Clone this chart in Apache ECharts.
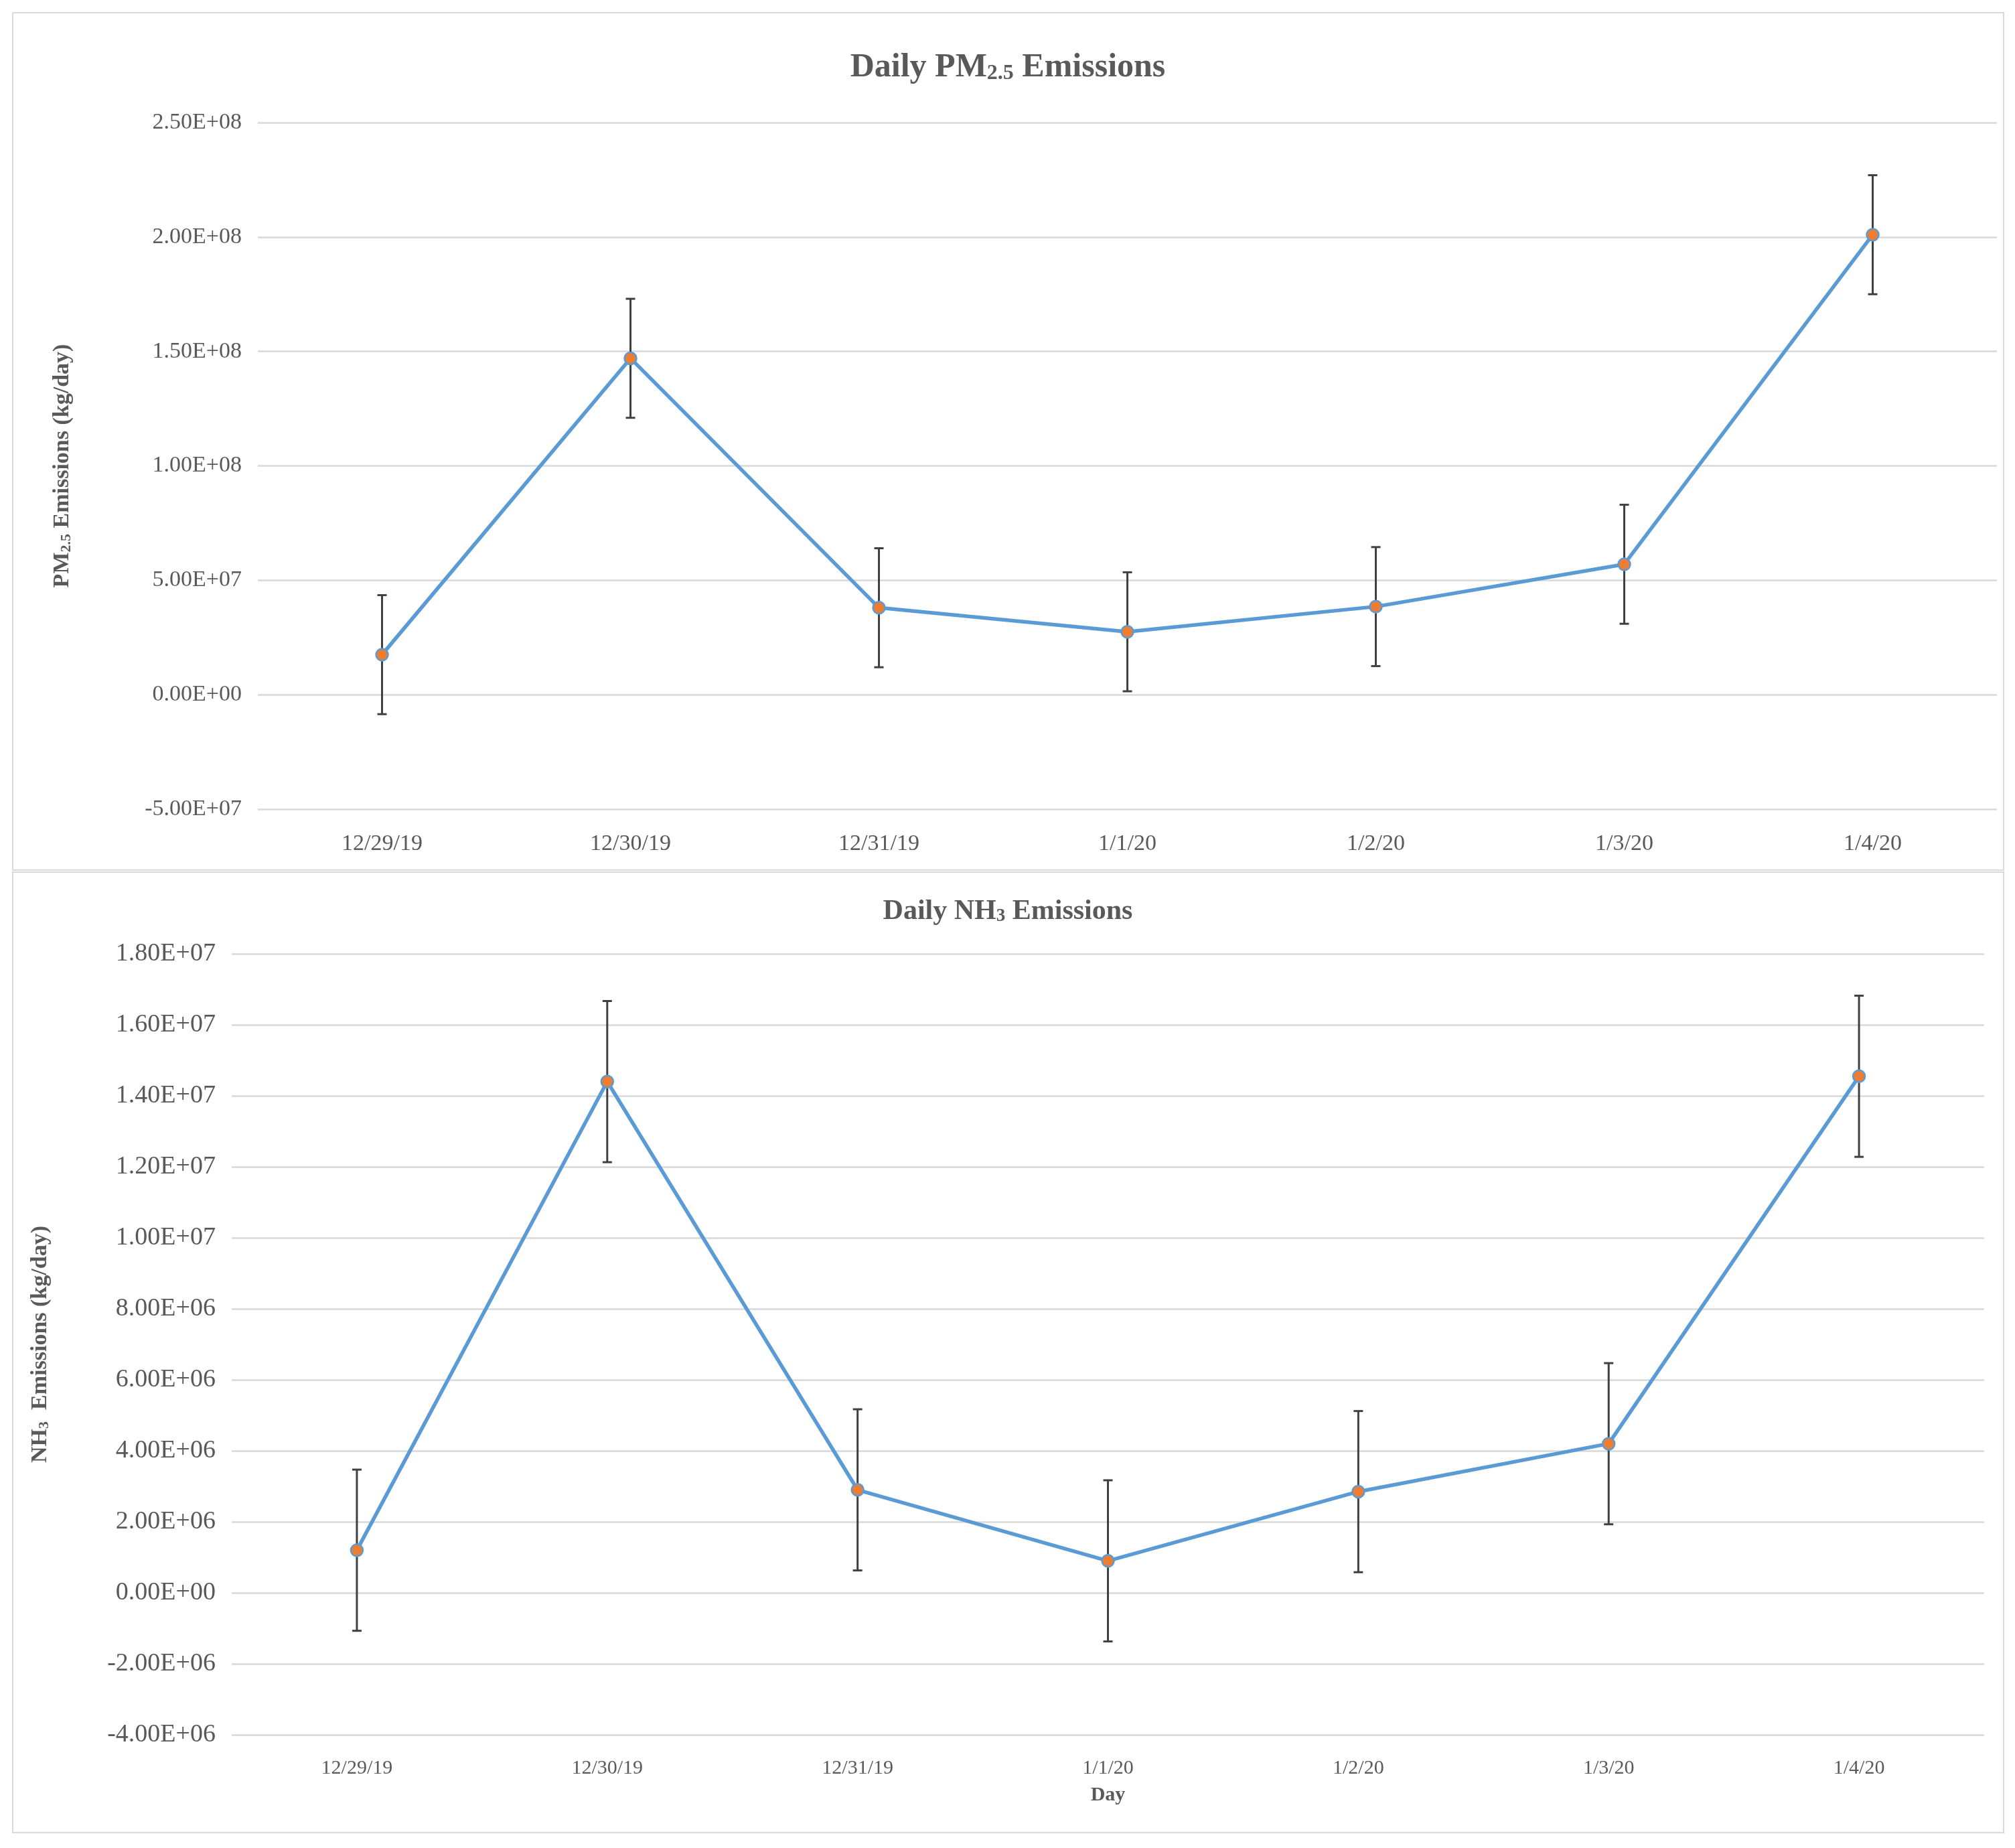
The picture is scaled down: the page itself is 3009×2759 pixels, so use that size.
<!DOCTYPE html>
<html lang="en">
<head>
    <meta charset="UTF-8">
    <title>Daily Emissions</title>
    <style>
        html, body { margin: 0; background: #fff; }
        #main { width: 3009px; height: 2759px; }
    </style>
</head>
<body>
    <div id="main"></div>
    <script src="https://cdn.jsdelivr.net/npm/echarts@6/dist/echarts.min.js"></script>
    <script>
        // data
        var days = ['12/29/19', '12/30/19', '12/31/19', '1/1/20', '1/2/20', '1/3/20', '1/4/20'];
        var pm25 = [1.75e7, 1.47e8, 3.8e7, 2.75e7, 3.85e7, 5.7e7, 2.01e8];
        var pm25Err = [2.6e7, 2.6e7, 2.6e7, 2.6e7, 2.6e7, 2.6e7, 2.6e7];
        var nh3 = [1.2e6, 1.44e7, 2.9e6, 0.9e6, 2.85e6, 4.2e6, 1.455e7];
        var nh3Err = [2.27e6, 2.27e6, 2.27e6, 2.27e6, 2.27e6, 2.27e6, 2.27e6];

        var font = 'Liberation Serif';
        var sub = { fontSize: 26, verticalAlign: 'bottom', padding: [0, 0, -10, 0] };

        function sci(v) {
            var s = v.toExponential(2).toUpperCase();
            return s.replace(/E([+-])(\d)$/, 'E$10$2');
        }

        function errorData(vals, errs) {
            return vals.map(function (v, i) { return [i, v - errs[i], v + errs[i]]; });
        }

        function errorBars(xi, yi, vals, errs) {
            return {
                type: 'custom', xAxisIndex: xi, yAxisIndex: yi, z: 1,
                data: errorData(vals, errs),
                renderItem: function (params, api) {
                    var lo = api.coord([api.value(0), api.value(1)]);
                    var hi = api.coord([api.value(0), api.value(2)]);
                    var w = 7;
                    var st = { stroke: '#404040', lineWidth: 3 };
                    return { type: 'group', children: [
                        { type: 'line', shape: { x1: lo[0], y1: lo[1], x2: hi[0], y2: hi[1] }, style: st },
                        { type: 'line', shape: { x1: lo[0] - w, y1: lo[1], x2: lo[0] + w, y2: lo[1] }, style: st },
                        { type: 'line', shape: { x1: hi[0] - w, y1: hi[1], x2: hi[0] + w, y2: hi[1] }, style: st }
                    ]};
                }
            };
        }

        function lineSeries(xi, yi, vals) {
            return {
                type: 'line', xAxisIndex: xi, yAxisIndex: yi, z: 3,
                data: vals, symbol: 'circle', symbolSize: 18,
                lineStyle: { color: '#5b9bd5', width: 5.5 },
                itemStyle: { color: '#ed7d31', borderColor: '#5b9bd5', borderWidth: 2.5 }
            };
        }

        var mychart = echarts.init(document.getElementById('main'));
        var option = {
            backgroundColor: '#fff',
            animation: false,
            graphic: [
                { type: 'rect', shape: { x: 19, y: 19, width: 2973, height: 1280 }, style: { fill: 'none', stroke: '#d9d9d9', lineWidth: 2 } },
                { type: 'rect', shape: { x: 19, y: 1302, width: 2973, height: 1434 }, style: { fill: 'none', stroke: '#d9d9d9', lineWidth: 2 } }
            ],
            title: [
                { text: 'Daily PM{s|2.5} Emissions', left: 1500, top: 96, textAlign: 'center', textVerticalAlign: 'middle',
                  textStyle: { fontFamily: font, fontSize: 50, fontWeight: 'bold', color: '#595959',
                      rich: { s: { fontFamily: font, fontSize: 32, fontWeight: 'bold', color: '#595959', padding: [18, 0, 0, 0] } } } },
                { text: 'Daily NH{s|3} Emissions', left: 1500, top: 1356, textAlign: 'center', textVerticalAlign: 'middle',
                  textStyle: { fontFamily: font, fontSize: 42, fontWeight: 'bold', color: '#595959',
                      rich: { s: { fontFamily: font, fontSize: 27, fontWeight: 'bold', color: '#595959', padding: [15, 0, 0, 0] } } } }
            ],
            grid: [
                { left: 385, right: 27, top: 183, height: 1025 },
                { left: 346, right: 46, top: 1424, height: 1166 }
            ],
            xAxis: [
                { type: 'category', gridIndex: 0, data: days,
                  axisLine: { show: false }, axisTick: { show: false },
                  axisLabel: { fontFamily: font, fontSize: 34, color: '#595959', margin: 35 } },
                { type: 'category', gridIndex: 1, data: days, name: 'Day', nameLocation: 'middle', nameGap: 75,
                  nameTextStyle: { fontFamily: font, fontSize: 30, fontWeight: 'bold', color: '#595959' },
                  axisLine: { show: false }, axisTick: { show: false },
                  axisLabel: { fontFamily: font, fontSize: 30, color: '#595959', margin: 35 } }
            ],
            yAxis: [
                { type: 'value', gridIndex: 0, min: -5e7, max: 2.5e8, interval: 5e7,
                  name: 'PM{s|2.5} Emissions (kg/day)', nameLocation: 'middle', nameGap: 275,
                  nameTextStyle: { fontFamily: font, fontSize: 34, fontWeight: 'bold', color: '#595959',
                      rich: { s: { fontFamily: font, fontSize: 22, fontWeight: 'bold', color: '#595959', padding: [12, 0, 0, 0] } } },
                  axisLabel: { fontFamily: font, fontSize: 34, color: '#595959', margin: 24, formatter: sci },
                  splitLine: { lineStyle: { color: '#d9d9d9', width: 2.5 } } },
                { type: 'value', gridIndex: 1, min: -4e6, max: 1.8e7, interval: 2e6,
                  name: 'NH{s|3}  Emissions (kg/day)', nameLocation: 'middle', nameGap: 269,
                  nameTextStyle: { fontFamily: font, fontSize: 34, fontWeight: 'bold', color: '#595959',
                      rich: { s: { fontFamily: font, fontSize: 22, fontWeight: 'bold', color: '#595959', padding: [12, 0, 0, 0] } } },
                  axisLabel: { fontFamily: font, fontSize: 38, color: '#595959', margin: 24, formatter: sci },
                  splitLine: { lineStyle: { color: '#d9d9d9', width: 2.5 } } }
            ],
            series: [
                errorBars(0, 0, pm25, pm25Err),
                lineSeries(0, 0, pm25),
                errorBars(1, 1, nh3, nh3Err),
                lineSeries(1, 1, nh3)
            ]
        };
        option && mychart.setOption(option);
    </script>
</body>
</html>
